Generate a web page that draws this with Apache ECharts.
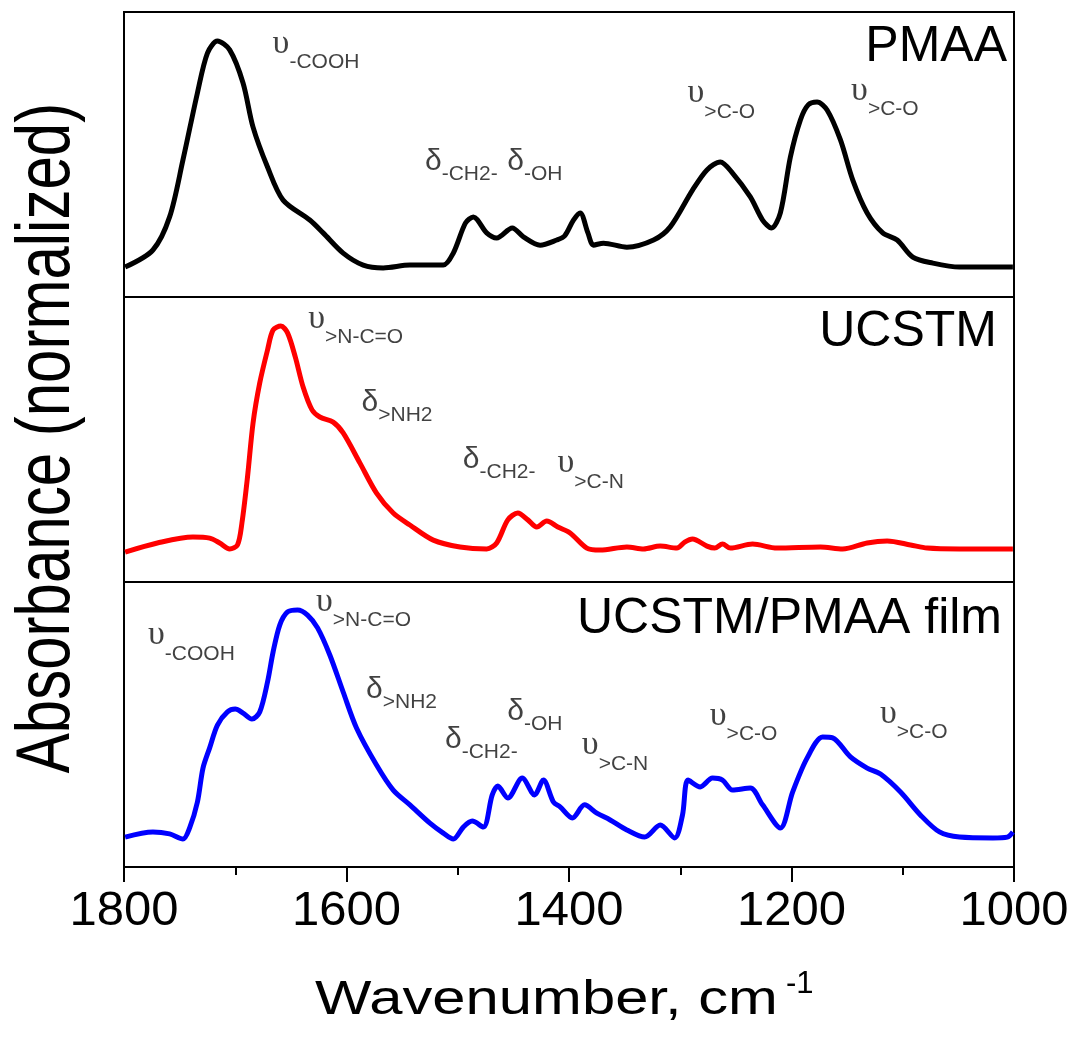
<!DOCTYPE html>
<html><head><meta charset="utf-8">
<script src="https://cdn.jsdelivr.net/npm/echarts@6/dist/echarts.min.js"></script>
<style>html,body{margin:0;padding:0;background:#fff}#c{width:1073px;height:1038px}</style>
</head><body><div id="c"></div>
<script>
// ---------- data ----------
const xTickValues = [1800, 1600, 1400, 1200, 1000];

const pmaaWn = [1799,1774,1759,1747,1734,1725,1716,1705,1693,1684,1671,1657,1633,1621,1603,1585,1567,1543,1513,1504,1493,1486,1474,1465,1451,1441,1426,1411,1404,1396,1390,1383,1378,1369,1348,1324,1309,1289,1276,1264,1253,1237,1226,1218,1210,1201,1192,1185,1177,1168,1156,1145,1132,1118,1105,1091,1073,1049,1024,1001];
const pmaaAbs = [10.5,16.5,28.1,48.1,71.6,85.6,89.8,86.7,75.1,59.6,45.6,34.0,27.0,22.5,15.4,11.2,10.2,11.2,11.2,15.4,26.0,28.1,22.5,20.7,24.2,21.1,18.2,20.0,21.4,27.0,29.5,22.5,18.2,18.9,17.5,20.0,24.6,37.5,44.6,47.4,43.5,35.1,27.0,24.2,29.5,49.1,62.1,67.4,68.4,65.6,55.1,41.1,29.5,22.5,20.0,14.0,11.9,10.5,10.5,10.5];

const ucstmWn = [1799,1770,1738,1723,1714,1705,1698,1694,1689,1684,1678,1671,1666,1659,1653,1646,1639,1631,1624,1612,1603,1588,1573,1558,1543,1522,1498,1474,1465,1455,1446,1437,1429,1420,1410,1399,1384,1372,1348,1333,1318,1303,1296,1289,1276,1269,1262,1255,1235,1213,1174,1154,1132,1114,1093,1078,1049,1001];
const ucstmAbs = [10.5,13.7,15.8,15.4,13.7,11.6,13.0,20.7,36.8,55.8,69.8,81.4,88.4,89.8,87.4,78.9,68.4,60.4,57.9,56.1,52.3,41.8,31.2,24.2,20.0,14.7,12.3,11.6,13.7,21.8,24.2,21.8,19.3,21.4,19.3,17.2,11.9,11.2,12.3,11.6,12.6,11.9,14.0,15.1,12.6,11.9,13.3,11.9,13.3,11.9,12.3,11.6,13.7,14.4,13.0,11.9,11.6,11.6];

const filmWn = [1799,1774,1759,1747,1741,1734,1729,1723,1716,1707,1700,1693,1685,1678,1671,1666,1660,1653,1644,1635,1626,1615,1603,1591,1573,1558,1543,1525,1513,1504,1495,1487,1477,1469,1464,1455,1442,1431,1423,1414,1408,1397,1386,1375,1363,1348,1332,1318,1305,1298,1293,1282,1271,1262,1253,1237,1226,1210,1199,1186,1172,1163,1147,1132,1120,1102,1084,1067,1049,1019,1006,1001];
const filmAbs = [10.5,12.3,11.6,9.8,13.7,22.8,34.7,41.8,49.8,54.4,55.4,54.0,51.9,54.4,64.9,75.4,84.9,89.5,90.2,88.4,83.9,74.4,61.4,48.8,35.8,27.0,21.8,15.4,11.9,9.8,14.0,16.1,14.0,25.3,28.4,24.2,31.2,25.3,30.5,22.8,21.1,17.2,21.8,18.9,16.5,13.0,10.5,14.7,10.2,18.2,30.5,28.1,31.2,30.5,27.0,27.7,21.8,13.7,26.3,38.2,45.6,45.3,38.6,34.7,32.6,26.3,18.2,12.3,10.5,10.2,10.5,12.3];

// band annotations: [wavenumber, level, greek, subscript]
const pmaaNotes = [
  [1666, 91.9, 'υ', '-COOH'],
  [1529, 52.6, 'δ', '-CH2-'],
  [1455, 52.6, 'δ', '-OH'],
  [1293, 74.4, 'υ', '>C-O'],
  [1146, 75.4, 'υ', '>C-O']
];
const ucstmNotes = [
  [1634, 95.4, 'υ', '>N-C=O'],
  [1586, 68.1, 'δ', '>NH2'],
  [1495, 48.1, 'δ', '-CH2-'],
  [1410, 44.6, 'υ', '>C-N']
];
const filmNotes = [
  [1778, 84.2, 'υ', '-COOH'],
  [1627, 96.1, 'υ', '>N-C=O'],
  [1582, 67.4, 'δ', '>NH2'],
  [1511, 49.8, 'δ', '-CH2-'],
  [1455, 59.6, 'δ', '-OH'],
  [1388, 45.6, 'υ', '>C-N'],
  [1273, 56.1, 'υ', '>C-O'],
  [1120, 56.8, 'υ', '>C-O']
];
const panelNames = ['PMAA', 'UCSTM', 'UCSTM/PMAA film'];

// ---------- chart ----------
const FONT = '"Liberation Sans", Arial, Helvetica, sans-serif';
const SERIF = '"Liberation Serif", "Times New Roman", serif';
const zip = (a, b) => a.map((v, i) => [v, b[i]]);
const panels = [
  {wn: pmaaWn, ab: pmaaAbs, notes: pmaaNotes, color: '#000000'},
  {wn: ucstmWn, ab: ucstmAbs, notes: ucstmNotes, color: '#ff0000'},
  {wn: filmWn, ab: filmAbs, notes: filmNotes, color: '#0000ff'}
];
const panelTops = [12, 297, 582];
const PH = 285;

const grid = panelTops.map(t => ({left: 124, width: 890, top: t, height: PH, show: true,
  outerBoundsMode: 'none', containLabel: false,
  borderColor: '#000', borderWidth: 2, backgroundColor: 'transparent'}));

const xAxis = panelTops.map((t, i) => ({
  type: 'value', gridIndex: i, min: xTickValues[xTickValues.length - 1], max: xTickValues[0],
  interval: xTickValues[0] - xTickValues[1], inverse: true, show: i === 2,
  axisLine: {show: true, lineStyle: {color: '#000', width: 2}},
  axisTick: {show: true, inside: false, length: 15, lineStyle: {color: '#000', width: 2}},
  minorTick: {show: true, splitNumber: 2, length: 8, lineStyle: {color: '#000', width: 2}},
  splitLine: {show: false}, minorSplitLine: {show: false},
  axisLabel: {show: true, fontSize: 49, color: '#000', fontFamily: FONT, margin: 20,
    formatter: v => String(v)}
}));
const yAxis = panelTops.map((t, i) => ({type: 'value', gridIndex: i, min: 0, max: 100, show: false}));

const rich = {
  u: {fontSize: 34, fontFamily: SERIF, color: '#111', height: 18, lineHeight: 18, verticalAlign: 'top'},
  d: {fontSize: 30, fontFamily: FONT, color: '#111', height: 30, lineHeight: 30, verticalAlign: 'top'},
  s: {fontSize: 21, fontFamily: FONT, color: '#111', height: 56, lineHeight: 56, verticalAlign: 'bottom'}
};

const series = [];
panels.forEach((p, i) => {
  series.push({
    type: 'line', xAxisIndex: i, yAxisIndex: i, data: zip(p.wn, p.ab),
    showSymbol: false, symbol: 'none', smooth: 0.3, silent: true, z: 2,
    lineStyle: {color: p.color, width: 5}
  });
  series.push({
    type: 'scatter', xAxisIndex: i, yAxisIndex: i, symbolSize: 1, silent: true, z: 3,
    itemStyle: {color: 'rgba(0,0,0,0)'},
    data: p.notes.map(n => ({value: [n[0], n[1]], g: n[2], s: n[3]})),
    label: {
      show: true, position: [0, 0], align: 'left', verticalAlign: 'top', color: '#111',
      formatter: prm => '{' + (prm.data.g === 'δ' ? 'd' : 'u') + '|' + prm.data.g + '}{s|' + prm.data.s + '}',
      rich: rich
    }
  });
});

const nameRight = [1007, 997, 1002];
const nameTop = [22.5, 307.5, 594];
const graphic = panelNames.map((nm, i) => ({
  type: 'text', x: nameRight[i], y: nameTop[i], silent: true,
  style: {text: nm, fontSize: 50, fontFamily: FONT, fill: '#000', align: 'right', verticalAlign: 'top',
    textAlign: 'right', textVerticalAlign: 'top'}
}));
graphic.push({
  type: 'text', x: 48, y: 438, rotation: Math.PI / 2, scaleY: 1.28, silent: true,
  style: {text: 'Absorbance (normalized)', fontSize: 60, fontFamily: FONT, fill: '#000',
    align: 'center', verticalAlign: 'middle', textAlign: 'center', textVerticalAlign: 'middle'}
});
graphic.push({
  type: 'text', x: 315, y: 976, scaleX: 1.22, silent: true,
  style: {text: 'Wavenumber, cm', fontSize: 49, fontFamily: FONT, fill: '#000',
    align: 'left', verticalAlign: 'top', textAlign: 'left', textVerticalAlign: 'top'}
});
graphic.push({
  type: 'text', x: 786, y: 969, silent: true,
  style: {text: '-1', fontSize: 31, fontFamily: FONT, fill: '#000',
    align: 'left', verticalAlign: 'top', textAlign: 'left', textVerticalAlign: 'top'}
});

const chart = echarts.init(document.getElementById('c'), null, {renderer: 'canvas'});
chart.setOption({animation: false, backgroundColor: '#fff', grid, xAxis, yAxis, series, graphic});
</script>
</body></html>
